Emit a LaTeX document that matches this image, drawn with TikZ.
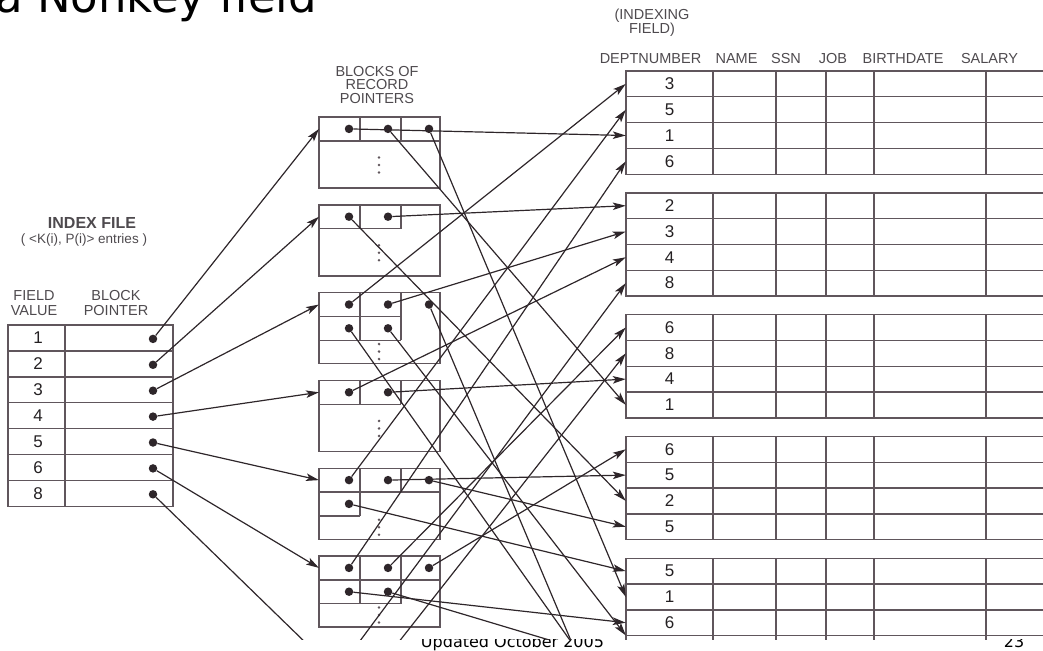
\documentclass[tikz,border=0pt]{standalone}
\usepackage{fontspec}
\setmainfont{Liberation Sans}
\newfontfamily\slidefont{DejaVu Sans}
\usetikzlibrary{arrows.meta}
\definecolor{figT}{RGB}{96,86,92}
\definecolor{figP}{RGB}{46,38,42}
\definecolor{figL}{RGB}{78,74,78}
\definecolor{figD}{RGB}{36,32,34}
\tikzset{
  tabrule/.style={draw=figT, line width=1.4pt},
  ptr/.style={draw=figP, line width=1.2pt, -{Stealth[length=13pt, width=7.5pt, inset=3pt]}},
  ptrdot/.style={circle, fill=figP, inner sep=0pt, minimum size=8.5pt},
  lbl/.style={font=\fontsize{14.5}{14.5}\selectfont, text=figL, align=center, inner sep=0pt},
  recval/.style={font=\fontsize{17}{17}\selectfont, text=figD, inner sep=0pt, minimum width=87pt, minimum height=25.8pt},
  slidetext/.style={inner sep=0pt, font=\slidefont\fontsize{16}{16}\selectfont}
}
\begin{document}
\begin{tikzpicture}[x=1pt, y=-1pt]
\useasboundingbox (0,0) rectangle (1043,650);
% ======== slide footer, partly under the figure ========
\begin{scope}
\clip (0,639) rectangle (1043,650);
\node[slidetext, anchor=base] (foot) at (512.5,647) {Updated October 2005};
\node[slidetext, anchor=base] (pageno) at (1014,647) {23};
\end{scope}
\begin{scope}
\clip (-20,-60) rectangle (1043,639);
\node[anchor=base west, inner sep=0pt, font=\slidefont\fontsize{45}{50}\selectfont] (title) at (-5,12.5) {a Nonkey field};
% ======== INDEX FILE ========
\node[lbl, font=\bfseries\fontsize{16}{16}\selectfont] (idxhead) at (92,223) {INDEX FILE};
\node[lbl, font=\fontsize{13.5}{14}\selectfont] (idxsub) at (84,240) {( <K(i), P(i)> entries )};
\node[lbl] (fvhead) at (34,303) {FIELD\\VALUE};
\node[lbl] (bphead) at (116,303) {BLOCK\\POINTER};
\draw[tabrule] (8,325) rectangle (173,506.3);
\draw[tabrule] (65,325) -- (65,506.3);
\foreach \i in {1,...,6} \draw[tabrule] (8,325+25.9*\i) -- (173,325+25.9*\i);
\foreach \v [count=\i] in {1,2,3,4,5,6,8} {
  \node[recval, minimum width=57pt] (iv\i) at (38,312.05+25.9*\i) {\v};
  \node[ptrdot] (ip\i) at (153,313+25.9*\i) {};
}
% ======== BLOCKS OF RECORD POINTERS ========
\node[lbl, font=\fontsize{14.5}{13.5}\selectfont] (blkhead) at (377,85) {BLOCKS OF\\RECORD\\POINTERS};
\foreach \k in {1,...,6} {
  \pgfmathsetmacro\ytop{117+87.8*(\k-1)}
  \draw[tabrule] (319,\ytop) rectangle (440,\ytop+71);
}
\foreach \k in {1,...,7} \coordinate (in\k) at (319,{128.9+87.8*(\k-1)});
% inner cells: tops 117, 204.8, 292.6, 380.4, 468.2, 556 ; row 23.8
\draw[tabrule] (319,140.8) -- (440,140.8) (360,117) -- (360,140.8) (401,117) -- (401,140.8);
\draw[tabrule] (319,228.6) -- (401,228.6) (360,204.8) -- (360,228.6) (401,204.8) -- (401,228.6);
\draw[tabrule] (319,316.4) -- (401,316.4) (319,340.2) -- (401,340.2) (360,292.6) -- (360,340.2) (401,292.6) -- (401,340.2);
\draw[tabrule] (319,404.2) -- (401,404.2) (360,380.4) -- (360,404.2) (401,380.4) -- (401,404.2);
\draw[tabrule] (319,492) -- (440,492) (319,515.8) -- (360,515.8) (360,468.2) -- (360,515.8) (401,468.2) -- (401,492);
\draw[tabrule] (319,579.8) -- (440,579.8) (319,603.6) -- (401,603.6) (360,556) -- (360,603.6) (401,556) -- (401,603.6);
% vertical ellipsis in each block
\foreach \ym in {165,252.8,351.6,428.4,527.2,615}
  \foreach \dy in {-7.5,0,7.5} \fill[figT] (379,\ym+\dy) circle (1.4);
% ======== DATA FILE ========
\node[lbl] (idxfield) at (652,22.5) {(INDEXING\\FIELD)};
\foreach \nm/\hx/\txt in {hdept/650.5/DEPTNUMBER, hname/736.5/NAME, hssn/786/SSN, hjob/833/JOB, hbirth/903/BIRTHDATE, hsal/989.5/SALARY}
  \node[lbl, anchor=base] (\nm) at (\hx,64) {\txt};
\foreach \bk in {0,...,4} {
  \pgfmathsetmacro\ytop{71+121.8*\bk}
  \draw[tabrule] (1060,\ytop) -- (626,\ytop) -- (626,\ytop+103.2) -- (1060,\ytop+103.2);
  \foreach \k in {1,2,3} \draw[tabrule] (626,\ytop+25.8*\k) -- (1060,\ytop+25.8*\k);
  \foreach \cx in {713,776,826,874,986} \draw[tabrule] (\cx,\ytop) -- (\cx,\ytop+103.2);
}
\foreach \vals [count=\bk] in {{3,5,1,6},{2,3,4,8},{6,8,4,1},{6,5,2,5},{5,1,6,{}}}
  \foreach \v [count=\rw] in \vals
    \node[recval] (rec\bk-\rw) at (669.5,{71+121.8*(\bk-1)+25.8*(\rw-1)+12.9}) {\v};
% records below the visible part
\coordinate (rec6-1) at (626,663);
\coordinate (rec6-2) at (626,719.4);
\coordinate (rec6-4) at (626,771);
% ======== pointer dots ========
\foreach \nm/\px/\py in {b1d1/349/128.9, b1d2/388/128.9, b1d3/429/128.9,
    b2d1/349/216.7, b2d2/388/216.7,
    b3d1/349/304.5, b3d2/388/304.5, b3d3/429/304.5, b3d4/349/328.3, b3d5/388/328.3,
    b4d1/349/392.3, b4d2/388/392.3,
    b5d1/349/480.1, b5d2/388/480.1, b5d3/429/480.1, b5d4/349/503.9,
    b6d1/349/567.9, b6d2/388/567.9, b6d3/429/567.9, b6d4/349/591.7, b6d5/388/591.7}
  \node[ptrdot] (\nm) at (\px,\py) {};
\coordinate (b7d1) at (349,655.7);
\coordinate (b7d2) at (388,655.7);
% index entries -> blocks
\foreach \i in {1,...,7} \draw[ptr] (ip\i) -- (in\i);
% record pointers -> records
\foreach \src/\dst in {b1d1/rec1-3.west, b1d2/rec3-4.west, b1d3/rec5-2.west,
    b2d1/rec4-3.west, b2d2/rec2-1.west,
    b3d1/rec1-1.west, b3d2/rec2-2.west, b3d3/rec6-4, b3d4/rec6-2, b3d5/rec5-4.north west,
    b4d1/rec2-3.west, b4d2/rec3-3.west,
    b5d1/rec1-2.west, b5d2/rec4-2.west, b5d3/rec4-4.west, b5d4/rec5-1.west,
    b6d1/rec1-4.west, b6d2/rec3-1.west, b6d3/rec4-1.west, b6d4/rec5-3.west, b6d5/rec6-1,
    b7d1/rec2-4.west, b7d2/rec3-2.west}
  \draw[ptr] (\src) -- (\dst);
\end{scope}
\end{tikzpicture}
\end{document}
